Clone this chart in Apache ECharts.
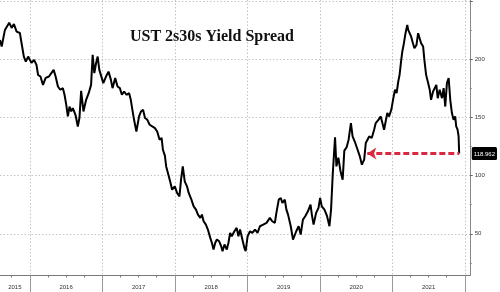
<!DOCTYPE html>
<html>
<head>
<meta charset="utf-8">
<script src="https://cdn.jsdelivr.net/npm/echarts@6/dist/echarts.min.js"></script>
<style>html,body{margin:0;padding:0;background:#fff;}#c{width:500px;height:292px;}</style>
</head>
<body>
<div id="c"></div>
<script>
// Dates as decimal years
const dates = [
2015.589,2015.612,2015.657,2015.716,2015.749,2015.781,2015.818,2015.863,2015.886,2015.918,
2015.945,2015.977,2016.023,2016.059,2016.092,2016.114,2016.147,2016.182,2016.219,2016.264,
2016.297,2016.329,2016.356,2016.388,2016.420,2016.456,2016.479,2016.503,2016.525,2016.548,
2016.571,2016.593,2016.630,2016.662,2016.685,2016.708,2016.740,2016.777,2016.812,2016.845,
2016.867,2016.890,2016.914,2016.936,2016.959,2016.982,2017.014,2017.051,2017.086,2017.119,
2017.141,2017.178,2017.210,2017.242,2017.270,2017.301,2017.333,2017.370,2017.393,2017.415,
2017.438,2017.470,2017.507,2017.534,2017.562,2017.589,2017.621,2017.653,2017.689,2017.726,
2017.757,2017.790,2017.818,2017.836,2017.863,2017.881,2017.918,2017.941,2017.963,2018.000,
2018.031,2018.064,2018.086,2018.110,2018.137,2018.168,2018.192,2018.229,2018.260,2018.292,
2018.319,2018.352,2018.374,2018.397,2018.429,2018.456,2018.489,2018.511,2018.534,2018.558,
2018.580,2018.612,2018.640,2018.658,2018.685,2018.717,2018.740,2018.763,2018.785,2018.822,
2018.853,2018.877,2018.900,2018.932,2018.959,2018.977,2019.004,2019.037,2019.069,2019.106,
2019.141,2019.174,2019.219,2019.265,2019.311,2019.343,2019.380,2019.401,2019.434,2019.462,
2019.484,2019.517,2019.539,2019.562,2019.599,2019.630,2019.653,2019.675,2019.708,2019.736,
2019.767,2019.799,2019.836,2019.872,2019.890,2019.914,2019.949,2019.982,2020.004,2020.027,
2020.064,2020.100,2020.133,2020.155,2020.178,2020.210,2020.229,2020.256,2020.284,2020.315,
2020.338,2020.370,2020.397,2020.429,2020.452,2020.489,2020.521,2020.552,2020.580,2020.612,
2020.634,2020.658,2020.681,2020.716,2020.749,2020.771,2020.808,2020.840,2020.863,2020.886,
2020.908,2020.931,2020.955,2020.986,2021.014,2021.037,2021.059,2021.082,2021.100,2021.123,
2021.137,2021.160,2021.182,2021.206,2021.219,2021.237,2021.260,2021.284,2021.305,2021.333,
2021.356,2021.379,2021.397,2021.425,2021.442,2021.466,2021.489,2021.516,2021.534,2021.562,
2021.580,2021.607,2021.626,2021.653,2021.685,2021.708,2021.730,2021.753,2021.777,2021.799,
2021.822,2021.845,2021.867,2021.881,2021.900,2021.914,2021.922
];
// UST 2s30s spread, bp
const spread = [
216.5,210.8,225.1,231.3,226.8,230.2,223.6,222.5,213.9,202.2,
197.9,202.2,196.8,199.4,195.1,186.5,185.1,177.9,183.9,185.1,
188.0,190.8,185.1,176.5,173.7,175.1,169.4,160.8,150.8,159.3,
155.1,158.0,152.2,142.2,149.7,172.8,155.1,165.1,170.8,177.9,
203.7,188.0,196.5,202.2,190.8,192.3,179.4,185.1,189.3,182.2,
175.1,183.7,176.5,175.1,169.4,172.2,169.4,170.8,165.1,156.5,
147.9,137.9,150.8,155.1,156.5,149.4,147.9,143.7,142.2,140.8,
137.9,130.8,132.3,122.2,117.1,107.9,99.3,93.7,87.9,90.8,
85.1,82.2,96.5,107.9,95.1,90.8,85.1,79.4,73.6,70.8,
66.5,63.7,66.5,60.8,57.9,53.7,46.5,42.3,36.5,42.3,
45.1,43.6,39.3,35.1,40.8,36.5,42.3,50.8,47.9,52.2,
55.1,47.9,53.7,45.1,38.0,35.1,47.9,52.2,50.8,53.7,
50.8,56.5,57.9,59.4,63.7,60.8,59.4,68.0,79.4,80.8,
76.5,79.4,70.8,66.5,56.5,45.1,43.6,52.2,56.5,49.4,
62.2,65.1,69.3,75.1,66.5,57.9,68.0,72.3,80.8,73.6,
70.8,65.1,56.5,70.8,100.8,132.9,107.9,115.4,104.2,96.5,
121.4,124.4,130.8,145.1,133.6,128.0,122.2,116.5,109.4,113.7,
128.0,129.3,133.6,132.3,139.4,145.1,147.9,150.8,145.1,139.4,
146.5,153.7,150.8,156.5,166.5,173.7,170.8,180.8,186.5,199.4,
206.2,213.7,222.3,229.4,225.1,226.5,219.3,213.7,209.4,212.2,
222.3,222.3,213.7,210.8,199.4,186.5,180.8,173.7,165.1,172.2,
170.8,177.9,166.5,173.7,166.5,175.1,159.3,179.4,183.7,165.1,
153.7,147.9,150.8,142.2,139.4,133.6,118.962
];
const yearTicks = [2016, 2017, 2018, 2019, 2020, 2021, 2022];
const yearLabelPos = [2015.794, 2016.5, 2017.5, 2018.5, 2019.5, 2020.5, 2021.5];
const quarterTicks = [2015.75,
  2016.25, 2016.5, 2016.75, 2017.25, 2017.5, 2017.75, 2018.25, 2018.5, 2018.75,
  2019.25, 2019.5, 2019.75, 2020.25, 2020.5, 2020.75, 2021.25, 2021.5, 2021.75];
const yTicks = [50, 100, 150, 200, 250];
const yLabels = [50, 100, 150, 200];
const yMinorTicks = [25, 75, 125, 175, 225];
const arrowFrom = 2020.655;   // where the red arrow points to
const xMin = 2015.589, xMax = 2022.068;
const yMin = 14.2, yMax = 250.8;

const lastDate = dates[dates.length - 1];
const lastValue = spread[spread.length - 1];

const chart = echarts.init(document.getElementById('c'), null, {renderer: 'canvas'});
const dotted = {type: [1.5, 2], color: '#c4c4c4', width: 1};
const lbl = {fontFamily: 'Liberation Sans', fontSize: 6, color: '#333'};

chart.setOption({
  animation: false,
  backgroundColor: '#fff',
  title: {
    text: 'UST 2s30s Yield Spread',
    left: 212, top: 29, textAlign: 'center', padding: 0,
    textStyle: {fontFamily: 'Liberation Serif', fontWeight: 'bold', fontSize: 16, color: '#111'}
  },
  grid: {left: 0, right: 27, top: 0, bottom: 16.5, containLabel: false},
  xAxis: [{
    type: 'value', min: xMin, max: xMax, position: 'bottom',
    axisLine: {show: true, lineStyle: {color: '#777', width: 1}},
    axisTick: {show: true, customValues: yearTicks, length: 17, lineStyle: {color: '#9a9a9a'}},
    axisLabel: Object.assign({customValues: yearLabelPos, margin: 9,
      formatter: v => String(Math.floor(v))}, lbl),
    splitLine: {show: true, lineStyle: dotted}
  }, {
    type: 'value', min: xMin, max: xMax, position: 'bottom',
    axisLine: {show: false},
    axisTick: {show: true, customValues: quarterTicks, length: 2, lineStyle: {color: '#777'}},
    axisLabel: {show: false},
    splitLine: {show: false}
  }],
  yAxis: [{
    type: 'value', min: yMin, max: yMax, position: 'right',
    axisLine: {show: true, lineStyle: {color: '#888'}},
    axisTick: {show: true, customValues: yTicks, length: 3, lineStyle: {color: '#666'}},
    axisLabel: Object.assign({customValues: yLabels, margin: 5}, lbl),
    splitLine: {show: true, lineStyle: dotted}
  }, {
    type: 'value', min: yMin, max: yMax, position: 'right',
    axisLine: {show: false},
    axisTick: {show: true, customValues: yMinorTicks, length: 2, lineStyle: {color: '#888'}},
    axisLabel: {show: false},
    splitLine: {show: false}
  }, {
    type: 'value', min: yMin, max: yMax, position: 'right',
    axisLine: {show: false},
    axisTick: {show: false},
    axisLabel: {
      customValues: [lastValue], margin: 2,
      formatter: v => '{box|' + v.toFixed(3) + '}',
      rich: {box: {backgroundColor: '#000', color: '#fff', fontFamily: 'Liberation Sans',
        fontSize: 6, padding: [4, 2, 3, 2], borderRadius: 1.5}}
    },
    splitLine: {show: false}
  }],
  series: [{
    type: 'line',
    data: dates.map((d, i) => [d, spread[i]]),
    showSymbol: false,
    symbol: 'none',
    lineStyle: {color: '#000', width: 2},
    z: 3,
    markLine: {
      silent: true,
      symbol: ['arrow', 'none'],
      symbolSize: 9,
      label: {show: false},
      lineStyle: {color: '#d9283f', width: 3, type: [6, 3]},
      data: [[{coord: [arrowFrom, lastValue]}, {coord: [lastDate, lastValue]}]]
    }
  }]
});
</script>
</body>
</html>
